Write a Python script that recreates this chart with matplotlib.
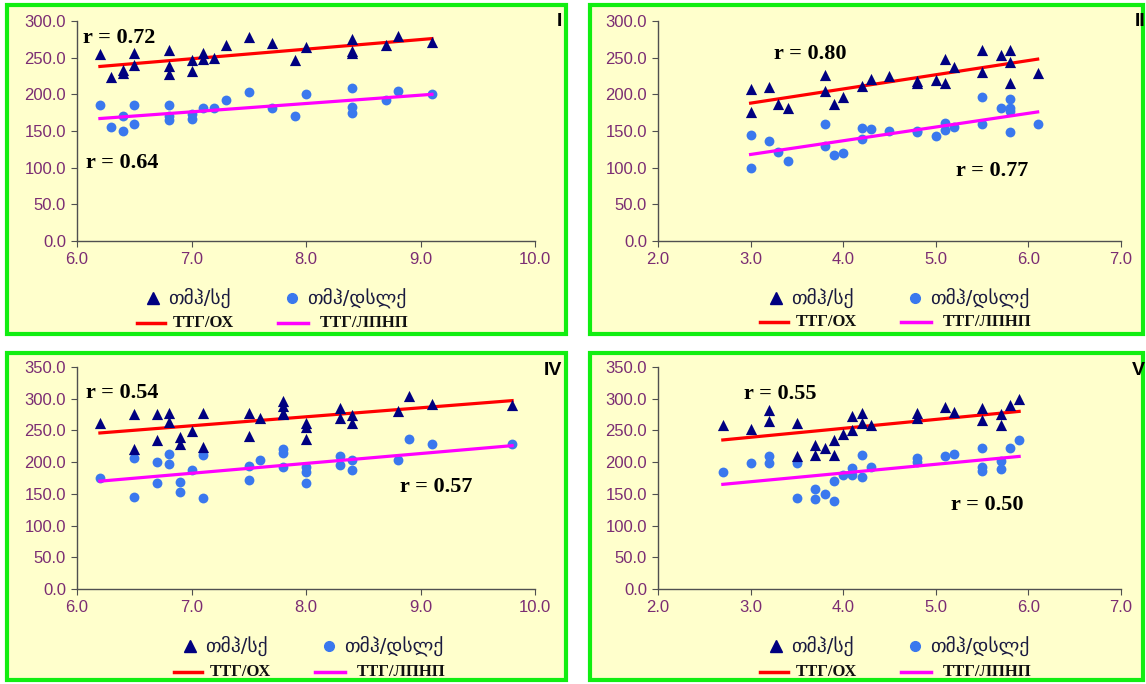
import matplotlib
matplotlib.use("Agg")
import matplotlib.pyplot as plt
from matplotlib.patches import Rectangle
from matplotlib.lines import Line2D
import numpy as np

# ---------------- dados ----------------
# Painel I
p1_x_ox = [6.2, 6.3, 6.4, 6.4, 6.5, 6.5, 6.8, 6.8, 6.8, 7.0, 7.0, 7.1, 7.1, 7.2, 7.3,
           7.5, 7.7, 7.9, 8.0, 8.4, 8.4, 8.4, 8.7, 8.8, 9.1]
p1_y_ox = [255, 223, 233, 229, 256, 240, 261, 238, 228, 247, 232, 256, 248, 249, 267,
           278, 270, 247, 264, 275, 259, 257, 267, 280, 271]
p1_x_ldl = [6.2, 6.3, 6.4, 6.4, 6.5, 6.5, 6.8, 6.8, 6.8, 7.0, 7.0, 7.1, 7.2, 7.3,
            7.5, 7.7, 7.9, 8.0, 8.4, 8.4, 8.4, 8.7, 8.8, 9.1]
p1_y_ldl = [186, 156, 170, 150, 185, 159, 186, 171, 165, 173, 166, 182, 182, 192,
            203, 181, 170, 201, 209, 183, 174, 192, 204, 200]
p1_trend_x = [6.2, 9.1]
p1_trend_ox = [238, 276]
p1_trend_ldl = [167, 200]

# Painel II
p2_x_ox = [3.0, 3.0, 3.2, 3.3, 3.4, 3.8, 3.8, 3.9, 4.0, 4.2, 4.3, 4.5, 4.8, 4.8, 5.0,
           5.1, 5.1, 5.2, 5.5, 5.5, 5.7, 5.8, 5.8, 5.8, 6.1]
p2_y_ox = [207, 176, 210, 187, 181, 226, 205, 187, 197, 212, 221, 225, 218, 216, 219,
           248, 216, 237, 261, 230, 254, 261, 244, 216, 229]
p2_x_ldl = [3.0, 3.0, 3.2, 3.3, 3.4, 3.8, 3.8, 3.9, 4.0, 4.2, 4.2, 4.3, 4.5, 4.8, 4.8,
            5.0, 5.1, 5.1, 5.2, 5.5, 5.5, 5.7, 5.8, 5.8, 5.8, 5.8, 6.1]
p2_y_ldl = [145, 100, 136, 122, 109, 159, 129, 117, 120, 154, 139, 153, 150, 150, 148,
            143, 161, 152, 156, 196, 159, 181, 194, 181, 177, 148, 160]
p2_trend_x = [3.0, 6.1]
p2_trend_ox = [188, 248]
p2_trend_ldl = [118, 176]

# Painel IV
p3_x_ox = [6.2, 6.5, 6.5, 6.7, 6.7, 6.8, 6.8, 6.9, 6.9, 7.0, 7.1, 7.1, 7.5, 7.5, 7.6,
           7.8, 7.8, 7.8, 7.8, 8.0, 8.0, 8.0, 8.3, 8.3, 8.4, 8.4, 8.8, 8.9, 9.1, 9.8]
p3_y_ox = [261, 276, 221, 276, 235, 277, 263, 239, 229, 249, 277, 224, 277, 242, 269,
           296, 289, 278, 276, 261, 256, 237, 286, 270, 275, 261, 280, 305, 292, 290]
p3_x_ldl = [6.2, 6.5, 6.5, 6.7, 6.7, 6.8, 6.8, 6.9, 6.9, 7.0, 7.1, 7.1, 7.5, 7.5, 7.6,
            7.8, 7.8, 7.8, 8.0, 8.0, 8.0, 8.3, 8.3, 8.4, 8.4, 8.8, 8.9, 9.1, 9.8]
p3_y_ldl = [175, 207, 145, 200, 167, 213, 197, 169, 153, 188, 212, 143, 194, 172, 204,
            220, 214, 193, 192, 185, 167, 210, 196, 204, 188, 204, 237, 228, 229]
p3_trend_x = [6.2, 9.8]
p3_trend_ox = [246, 297]
p3_trend_ldl = [170, 226]

# Painel V
p4_x_ox = [2.7, 3.0, 3.2, 3.2, 3.5, 3.5, 3.7, 3.7, 3.8, 3.9, 3.9, 4.0, 4.1, 4.1, 4.2,
           4.2, 4.3, 4.8, 4.8, 5.1, 5.2, 5.5, 5.5, 5.7, 5.7, 5.8, 5.9]
p4_y_ox = [258, 253, 282, 265, 261, 210, 227, 211, 222, 235, 211, 244, 272, 251, 278,
           262, 258, 278, 270, 287, 279, 286, 267, 276, 258, 290, 299]
p4_x_ldl = [2.7, 3.0, 3.2, 3.2, 3.5, 3.5, 3.7, 3.7, 3.8, 3.9, 3.9, 4.0, 4.1, 4.1, 4.2,
            4.2, 4.3, 4.8, 4.8, 5.1, 5.2, 5.5, 5.5, 5.5, 5.7, 5.7, 5.8, 5.9]
p4_y_ldl = [184, 198, 210, 198, 198, 144, 158, 142, 150, 171, 138, 180, 191, 180, 211,
            176, 193, 207, 201, 210, 213, 223, 193, 186, 202, 189, 223, 235]
p4_trend_x = [2.7, 5.9]
p4_trend_ox = [235, 280]
p4_trend_ldl = [165, 209]

r_labels = [("r = 0.72", "r = 0.64"), ("r = 0.80", "r = 0.77"),
            ("r = 0.54", "r = 0.57"), ("r = 0.55", "r = 0.50")]
panel_names = ["I", "II", "IV", "V"]
legend_labels = ["თმჰ/სქ", "ТТГ/ОХ", "თმჰ/დსლქ", "ТТГ/ЛПНП"]

# ---------------- figura ----------------
W, H = 1146, 684
fig = plt.figure(figsize=(W / 100, H / 100), dpi=100)
fig.patch.set_facecolor("white")

def fx(px):
    return px / W

def fy(py):
    return 1 - py / H

# molduras verdes (x0, y0, x1, y1 em pixels)
frames = [(7, 5, 566, 334), (590, 5, 1143, 334), (7, 353, 566, 680), (590, 353, 1143, 680)]
for x0, y0, x1, y1 in frames:
    fig.patches.append(Rectangle((fx(x0), fy(y1)), fx(x1 - x0), (y1 - y0) / H,
                                 transform=fig.transFigure, facecolor="#FFFFCC",
                                 edgecolor="#11EE11", linewidth=3, zorder=-1))

# eixos (esq, dir, topo, base em pixels)
axes_px = [(77, 535, 21, 241), (658, 1121, 21, 241), (77, 535, 367, 589), (658, 1121, 367, 589)]
xlims = [(6, 10), (2, 7), (6, 10), (2, 7)]
ylims = [300, 300, 350, 350]
datasets = [
    (p1_x_ox, p1_y_ox, p1_x_ldl, p1_y_ldl, p1_trend_x, p1_trend_ox, p1_trend_ldl),
    (p2_x_ox, p2_y_ox, p2_x_ldl, p2_y_ldl, p2_trend_x, p2_trend_ox, p2_trend_ldl),
    (p3_x_ox, p3_y_ox, p3_x_ldl, p3_y_ldl, p3_trend_x, p3_trend_ox, p3_trend_ldl),
    (p4_x_ox, p4_y_ox, p4_x_ldl, p4_y_ldl, p4_trend_x, p4_trend_ox, p4_trend_ldl),
]
# posicoes dos textos r (dados)
r_pos = [((6.05, 277), (6.08, 106)), ((3.25, 255), (5.22, 96)),
         ((6.08, 309), (8.82, 161)), ((2.93, 308), (5.16, 132))]
name_pos = [(562, 22), (1145, 22), (562, 370), (1145, 370)]
# legenda: x do triangulo, y da 1a e 2a linha (pixels)
legend_pos = [(153, 298, 323), (776, 298, 322), (190, 646, 672), (776, 646, 672)]

tick_color = "#7B2D73"
axis_color = "#505050"

for i in range(4):
    l, r, t, b = axes_px[i]
    ax = fig.add_axes([fx(l), fy(b), fx(r - l), (b - t) / H])
    ax.patch.set_alpha(0)
    xo, yo, xl, yl, tx, to, tl = datasets[i]

    ax.plot(tx, to, color="#FF0000", lw=2.3, zorder=3)
    ax.plot(tx, tl, color="#FF00FF", lw=2.3, zorder=3)
    ax.scatter(xo, yo, marker="^", s=65, color="#000080", zorder=4, linewidths=0)
    ax.scatter(xl, yl, marker="o", s=50, color="#3A78EE", zorder=2, linewidths=0)

    ax.set_xlim(*xlims[i])
    ax.set_ylim(0, ylims[i])
    ax.set_xticks(np.arange(xlims[i][0], xlims[i][1] + 0.5, 1))
    ax.set_yticks(np.arange(0, ylims[i] + 1, 50))
    ax.xaxis.set_major_formatter(matplotlib.ticker.FormatStrFormatter("%.1f"))
    ax.yaxis.set_major_formatter(matplotlib.ticker.FormatStrFormatter("%.1f"))
    for s in ["top", "right"]:
        ax.spines[s].set_visible(False)
    for s in ["left", "bottom"]:
        ax.spines[s].set_color(axis_color)
        ax.spines[s].set_linewidth(1)
    ax.tick_params(direction="out", length=4, color=axis_color, labelcolor=tick_color,
                   labelsize=12, pad=4)
    for lab in ax.get_xticklabels() + ax.get_yticklabels():
        lab.set_fontfamily("Liberation Sans")

    (ra, rb) = r_labels[i]
    (pa, pb) = r_pos[i]
    ax.text(pa[0], pa[1], ra, fontsize=16, fontweight="bold", family="Liberation Serif",
            va="center", ha="left")
    ax.text(pb[0], pb[1], rb, fontsize=16, fontweight="bold", family="Liberation Serif",
            va="center", ha="left")

    fig.text(fx(name_pos[i][0]), fy(name_pos[i][1]), panel_names[i], fontsize=14,
             fontweight="bold", family="Liberation Sans", ha="right", va="center")

    # legenda desenhada a mao
    T, y1, y2 = legend_pos[i]
    fig.add_artist(Line2D([fx(T)], [fy(y1)], marker="^", color="#000080", ls="none",
                          markersize=8, transform=fig.transFigure))
    fig.add_artist(Line2D([fx(T + 139)], [fy(y1)], marker="o", color="#3A78EE", ls="none",
                          markersize=7, transform=fig.transFigure))
    fig.add_artist(Line2D([fx(T - 16), fx(T + 12)], [fy(y2), fy(y2)], color="#FF0000",
                          lw=2.5, transform=fig.transFigure))
    fig.add_artist(Line2D([fx(T + 125), fx(T + 155)], [fy(y2), fy(y2)], color="#FF00FF",
                          lw=2.5, transform=fig.transFigure))
    fig.text(fx(T + 15), fy(y1), legend_labels[0], fontsize=14, family=["DejaVu Sans"],
             color="#1A1A40", va="center", ha="left")
    fig.text(fx(T + 154), fy(y1), legend_labels[2], fontsize=14, family=["DejaVu Sans"],
             color="#1A1A40", va="center", ha="left")
    fig.text(fx(T + 20), fy(y2), legend_labels[1], fontsize=12, family="Liberation Serif",
             fontweight="bold", color="#111111", va="center", ha="left")
    fig.text(fx(T + 167), fy(y2), legend_labels[3], fontsize=12, family="Liberation Serif",
             fontweight="bold", color="#111111", va="center", ha="left")

fig.savefig("out.png", dpi=100)
